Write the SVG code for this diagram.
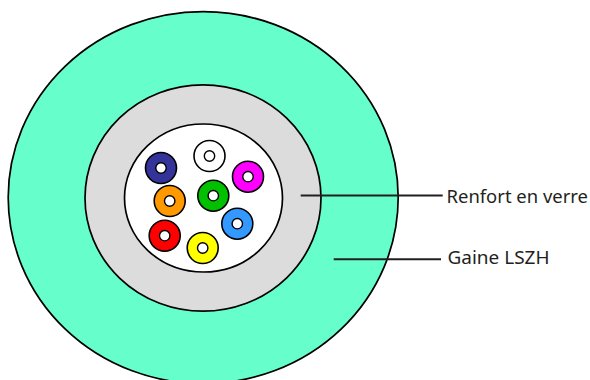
<svg xmlns="http://www.w3.org/2000/svg" width="590" height="380" viewBox="0 0 590 380">
<style>
.o{stroke:#000;stroke-width:1.7}
.f{stroke:#000;stroke-width:1.6}
.h{fill:#fff;stroke:#000;stroke-width:1.4}
.l{stroke:#231f20;stroke-width:2.1;fill:none}
text{font-family:"Noto Sans","Open Sans","Liberation Sans",sans-serif;font-size:18px;fill:#231f20}
</style>
<rect width="590" height="380" fill="#fff"/>
<g id="gaine"><ellipse class="o" cx="203.2" cy="197.6" rx="195" ry="186" fill="#66ffcc"/></g>
<g id="renfort"><ellipse class="o" cx="203" cy="198" rx="118" ry="113.2" fill="#dcdcdc"/></g>
<g id="tube"><ellipse class="o" cx="203.5" cy="198" rx="79" ry="74" fill="#fff"/></g>
<g id="fibre-navy"><circle class="f" cx="161" cy="168" r="15.5" fill="#333399"/><circle class="h" cx="161" cy="168" r="5.2"/></g>
<g id="fibre-white"><circle class="f" cx="209.5" cy="156" r="15.5" fill="#fff"/><circle class="h" cx="209.5" cy="156" r="5.2"/></g>
<g id="fibre-magenta"><circle class="f" cx="248" cy="176.7" r="15.5" fill="#ff00ff"/><circle class="h" cx="248" cy="176.7" r="5.2"/></g>
<g id="fibre-green"><circle class="f" cx="213.3" cy="195.7" r="15.5" fill="#00c000"/><circle class="h" cx="213.3" cy="195.7" r="5.2"/></g>
<g id="fibre-orange"><circle class="f" cx="169.7" cy="201" r="15.5" fill="#ff9900"/><circle class="h" cx="169.7" cy="201" r="5.2"/></g>
<g id="fibre-blue"><circle class="f" cx="237.3" cy="223.7" r="15.5" fill="#3399ff"/><circle class="h" cx="237.3" cy="223.7" r="5.2"/></g>
<g id="fibre-red"><circle class="f" cx="164.7" cy="235.7" r="15.5" fill="#ff0000"/><circle class="h" cx="164.7" cy="235.7" r="5.2"/></g>
<g id="fibre-yellow"><circle class="f" cx="202.7" cy="248" r="15.5" fill="#ffff00"/><circle class="h" cx="202.7" cy="248" r="5.2"/></g>
<g id="connectors">
<line class="l" x1="300.7" y1="195.5" x2="442.7" y2="195.5"/>
<line class="l" x1="333.7" y1="259.3" x2="441" y2="259.3"/>
</g>
<g id="label-renfort"><text x="446.5" y="202.7" textLength="141.5" lengthAdjust="spacingAndGlyphs">Renfort en verre</text></g>
<g id="label-gaine"><text x="447.5" y="263.6" textLength="102" lengthAdjust="spacingAndGlyphs">Gaine LSZH</text></g>
</svg>
